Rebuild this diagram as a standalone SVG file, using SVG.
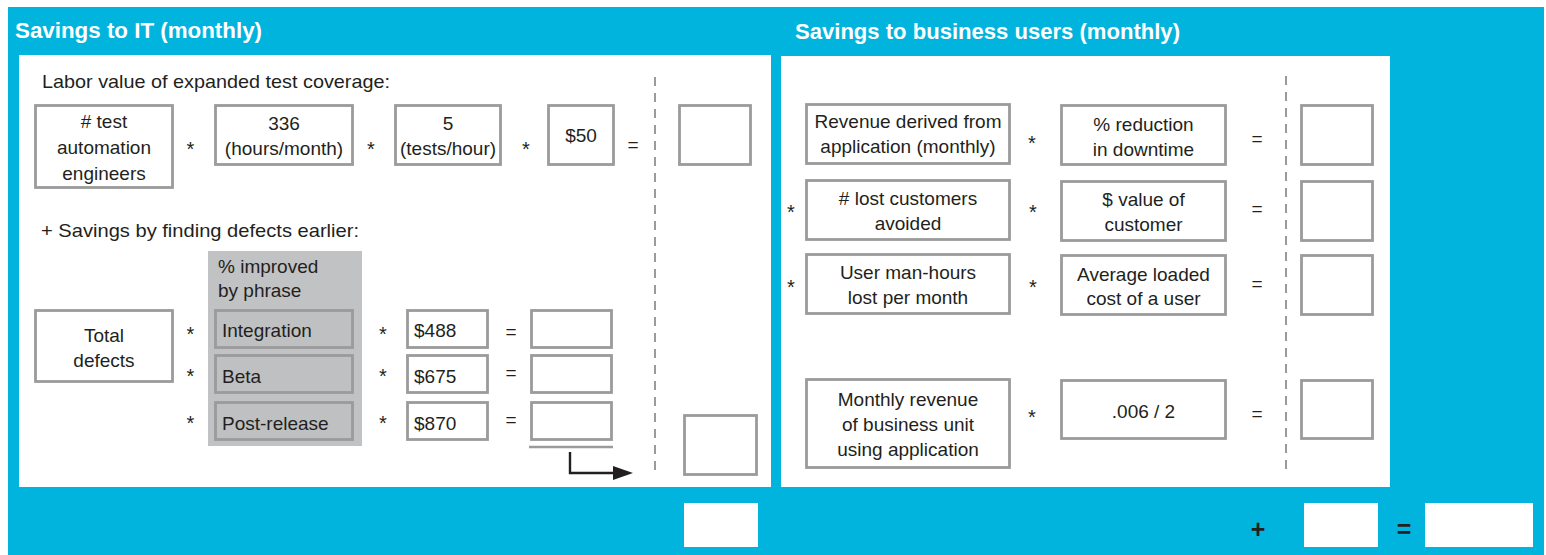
<svg xmlns="http://www.w3.org/2000/svg" width="1546" height="555" viewBox="0 0 1546 555">
<style>
text{font-family:'Liberation Sans',Arial,sans-serif;fill:#231f20}
.t{font-size:19px}
.c{text-anchor:middle}
.h{font-size:22px;font-weight:bold;fill:#fff}
.op{font-size:20px;text-anchor:middle}
.eq{font-size:19px;text-anchor:middle}
.big{font-size:25px;font-weight:bold;text-anchor:middle}
.box{fill:#fff;stroke:#9b9b9b;stroke-width:2.8}
.gbox{fill:#bfc0c2;stroke:#9b9b9b;stroke-width:2.8}
.wbox{fill:#fff}
.dash{stroke:#9b9b9b;stroke-width:2;stroke-dasharray:9 7;fill:none}
</style>
<rect x="0" y="0" width="1546" height="555" fill="#fff"/>
<rect x="8" y="7" width="1536" height="548" fill="#00b4dd"/>
<rect x="19" y="55" width="752" height="432" fill="#fff"/>
<rect x="781" y="56" width="609" height="431" fill="#fff"/>
<text class="h" x="15" y="38" textLength="247" lengthAdjust="spacingAndGlyphs">Savings to IT (monthly)</text>
<text class="h" x="795" y="39" textLength="385" lengthAdjust="spacingAndGlyphs">Savings to business users (monthly)</text>
<line class="dash" x1="655" y1="77" x2="655" y2="473"/>
<line class="dash" x1="1286" y1="76" x2="1286" y2="472"/>
<text class="t" x="42" y="88" textLength="348" lengthAdjust="spacingAndGlyphs">Labor value of expanded test coverage:</text>
<text class="t" x="41" y="237" textLength="318" lengthAdjust="spacingAndGlyphs">+ Savings by finding defects earlier:</text>
<g id="n-engineers"><rect class="box" x="35.5" y="105.5" width="137" height="82"/><text class="t c"><tspan x="104" y="128"># test</tspan><tspan x="104" y="154">automation</tspan><tspan x="104" y="180">engineers</tspan></text></g>
<g id="n-hours"><rect class="box" x="215.5" y="105.5" width="137" height="59"/><text class="t c"><tspan x="284" y="130">336</tspan><tspan x="284" y="155">(hours/month)</tspan></text></g>
<g id="n-tests"><rect class="box" x="395.5" y="105.5" width="105" height="59"/><text class="t c"><tspan x="448" y="130">5</tspan><tspan x="448" y="155">(tests/hour)</tspan></text></g>
<g id="n-rate"><rect class="box" x="548.5" y="105.5" width="65" height="59"/><text class="t c" x="581" y="142">$50</text></g>
<g id="n-res1"><rect class="box" x="679.5" y="105.5" width="71" height="59"/></g>
<text class="op" x="190.5" y="155.5">*</text>
<text class="op" x="371" y="155.5">*</text>
<text class="op" x="526" y="155.5">*</text>
<text class="eq" x="633" y="151">=</text>
<g id="n-total"><rect class="box" x="35.5" y="310.5" width="137" height="71"/><text class="t c"><tspan x="104" y="342">Total</tspan><tspan x="104" y="367">defects</tspan></text></g>
<g id="n-phase"><rect x="208" y="251" width="154" height="195" fill="#c1c2c4"/>
<text class="t"><tspan x="218" y="273">% improved</tspan><tspan x="218" y="297">by phrase</tspan></text>
<rect class="gbox" x="215.5" y="310.5" width="137" height="37"/><text class="t" x="222" y="337">Integration</text>
<rect class="gbox" x="215.5" y="355.5" width="137" height="37"/><text class="t" x="222" y="383">Beta</text>
<rect class="gbox" x="215.5" y="402.5" width="137" height="37"/><text class="t" x="222" y="430">Post-release</text></g>
<g id="n-488"><rect class="box" x="407.5" y="310.5" width="80" height="37"/><text class="t" x="414" y="337">$488</text></g>
<g id="n-675"><rect class="box" x="407.5" y="355.5" width="80" height="37"/><text class="t" x="414" y="383">$675</text></g>
<g id="n-870"><rect class="box" x="407.5" y="402.5" width="80" height="37"/><text class="t" x="414" y="430">$870</text></g>
<g id="n-r488"><rect class="box" x="531.5" y="310.5" width="80" height="37"/></g>
<g id="n-r675"><rect class="box" x="531.5" y="355.5" width="80" height="37"/></g>
<g id="n-r870"><rect class="box" x="531.5" y="402.5" width="80" height="37"/></g>
<line x1="529" y1="447" x2="613" y2="447" stroke="#9b9b9b" stroke-width="2.5"/>
<g id="n-sum"><rect class="box" x="684.5" y="415.5" width="72" height="59"/></g>
<text class="op" x="190.5" y="340.5">*</text>
<text class="op" x="190.5" y="382.5">*</text>
<text class="op" x="190.5" y="429.5">*</text>
<text class="op" x="383" y="340.5">*</text>
<text class="op" x="383" y="382.5">*</text>
<text class="op" x="383" y="429.5">*</text>
<text class="eq" x="511" y="337.5">=</text>
<text class="eq" x="511" y="378.5">=</text>
<text class="eq" x="511" y="425.5">=</text>
<g id="connectors">
<path d="M570,452 V473 H614" fill="none" stroke="#231f20" stroke-width="2.4"/>
<polygon points="613,466 633,473 613,480" fill="#231f20"/>
</g>
<g id="n-rev"><rect class="box" x="806.5" y="104.5" width="203" height="59"/><text class="t c"><tspan x="908" y="128">Revenue derived from</tspan><tspan x="908" y="153">application (monthly)</tspan></text></g>
<g id="n-downtime"><rect class="box" x="1061.5" y="105.5" width="164" height="59"/><text class="t c"><tspan x="1143.5" y="131">% reduction</tspan><tspan x="1143.5" y="156">in downtime</tspan></text></g>
<g id="n-r1"><rect class="box" x="1301.5" y="105.5" width="71" height="59"/></g>
<g id="n-lost"><rect class="box" x="806.5" y="180.5" width="203" height="59"/><text class="t c"><tspan x="908" y="205"># lost customers</tspan><tspan x="908" y="230">avoided</tspan></text></g>
<g id="n-value"><rect class="box" x="1061.5" y="181.5" width="164" height="59"/><text class="t c"><tspan x="1143.5" y="206">$ value of</tspan><tspan x="1143.5" y="231">customer</tspan></text></g>
<g id="n-r2"><rect class="box" x="1301.5" y="181.5" width="71" height="59"/></g>
<g id="n-manhours"><rect class="box" x="806.5" y="254.5" width="203" height="59"/><text class="t c"><tspan x="908" y="279">User man-hours</tspan><tspan x="908" y="304">lost per month</tspan></text></g>
<g id="n-cost"><rect class="box" x="1061.5" y="255.5" width="164" height="59"/><text class="t c"><tspan x="1143.5" y="281">Average loaded</tspan><tspan x="1143.5" y="305">cost of a user</tspan></text></g>
<g id="n-r3"><rect class="box" x="1301.5" y="255.5" width="71" height="59"/></g>
<g id="n-monthly"><rect class="box" x="806.5" y="379.5" width="203" height="88"/><text class="t c"><tspan x="908" y="406">Monthly revenue</tspan><tspan x="908" y="431">of business unit</tspan><tspan x="908" y="456">using application</tspan></text></g>
<g id="n-factor"><rect class="box" x="1061.5" y="380.5" width="164" height="58"/><text class="t c" x="1143.5" y="418">.006 / 2</text></g>
<g id="n-r4"><rect class="box" x="1301.5" y="380.5" width="71" height="58"/></g>
<text class="op" x="1032" y="149.5">*</text>
<text class="op" x="791" y="218.5">*</text>
<text class="op" x="1033" y="218.5">*</text>
<text class="op" x="791" y="293.5">*</text>
<text class="op" x="1033" y="293.5">*</text>
<text class="op" x="1032" y="423.5">*</text>
<text class="eq" x="1257" y="144.5">=</text>
<text class="eq" x="1257" y="214.5">=</text>
<text class="eq" x="1257" y="289.5">=</text>
<text class="eq" x="1257" y="419.5">=</text>
<g id="n-total-it"><rect class="wbox" x="684" y="503" width="74" height="44"/></g>
<text class="big" x="1258" y="537.5">+</text>
<g id="n-total-biz"><rect class="wbox" x="1304" y="503" width="74" height="44"/></g>
<text class="big" x="1404" y="537.5">=</text>
<g id="n-grand"><rect class="wbox" x="1425" y="503" width="108" height="44"/></g>
</svg>
